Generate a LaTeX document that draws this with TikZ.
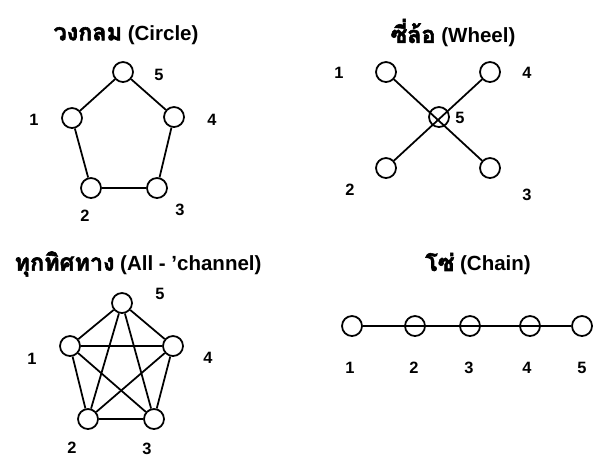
\documentclass[tikz,border=0pt]{standalone}
\usepackage{fontspec}
\setmainfont{Liberation Sans}
\newfontfamily\thaifont[Script=Thai,FakeBold=2.5]{Loma}
\usetikzlibrary{positioning}
\tikzset{
  stn/.style={circle,draw,line width=1.5pt,minimum size=0.6cm,inner sep=0pt},
  lnk/.style={line width=1.5pt},
  num/.style={font=\fontsize{14}{16}\selectfont\bfseries,inner sep=0pt},
  ttl/.style={font=\fontsize{17.5}{20}\selectfont\bfseries,inner sep=0pt},
}
\newcommand{\thaittl}[1]{{\fontsize{20}{22}\selectfont\thaifont #1}}

\begin{document}
\begin{tikzpicture}[x=0.03cm,y=-0.03cm]
\useasboundingbox (0,0) rectangle (594,462);

% TOP LEFT: circle network
\node[ttl] (tcircle) at (126,35) {\thaittl{วงกลม} (Circle)};
\node[stn] (a5) at (123,72) {};
\node[stn] (a1) at (72,118) {};
\node[stn] (a4) at (174,117) {};
\node[stn] (a2) at (91,188) {};
\node[stn] (a3) at (157,188) {};
\draw[lnk] (a5) -- (a4) -- (a3) -- (a2) -- (a1) -- (a5);
\node[num] (la5) at (159,75) {5};
\node[num] (la1) at (34,120) {1};
\node[num] (la4) at (212,120) {4};
\node[num] (la2) at (85,216) {2};
\node[num] (la3) at (180,210) {3};

% TOP RIGHT: wheel network
\node[ttl] (twheel) at (453,33) {\thaittl{ซี่ล้อ} (Wheel)};
\node[stn] (b1) at (386,72) {};
\node[stn] (b4) at (490,72) {};
\node[stn] (b5) at (439,117) {};
\node[stn] (b2) at (386,168) {};
\node[stn] (b3) at (490,168) {};
% spokes cross the hub
\draw[lnk] (b1) -- (b3);
\draw[lnk] (b4) -- (b2);
\node[num] (lb1) at (339,73) {1};
\node[num] (lb4) at (527,73) {4};
\node[num] (lb5) at (460,118) {5};
\node[num] (lb2) at (350,190) {2};
\node[num] (lb3) at (527,195) {3};

% BOTTOM LEFT: all-channel network
\node[ttl] (tall) at (138,264) {\thaittl{ทุกทิศทาง} (All - 'channel)};
\node[stn] (c5) at (122,303) {};
\node[stn] (c1) at (70,346) {};
\node[stn] (c4) at (173,346) {};
\node[stn] (c2) at (88,419) {};
\node[stn] (c3) at (154,419) {};
\foreach \i/\j in {1/2,1/3,1/4,1/5,2/3,2/4,2/5,3/4,3/5,4/5} {
  \draw[lnk] (c\i) -- (c\j);
}
\node[num] (lc5) at (160,294) {5};
\node[num] (lc1) at (32,359) {1};
\node[num] (lc4) at (208,358) {4};
\node[num] (lc2) at (72,448) {2};
\node[num] (lc3) at (147,449) {3};

% BOTTOM RIGHT: chain network
\node[ttl] (tchain) at (478,264) {\thaittl{โซ่} (Chain)};
\foreach \i/\x in {1/352,2/415,3/470,4/530,5/582} {
  \node[stn] (d\i) at (\x,326) {};
}
\draw[lnk] (d1) -- (d5);
\foreach \i/\x in {1/350,2/414,3/469,4/527,5/582} {
  \node[num] (ld\i) at (\x,368) {\i};
}
\end{tikzpicture}
\end{document}
